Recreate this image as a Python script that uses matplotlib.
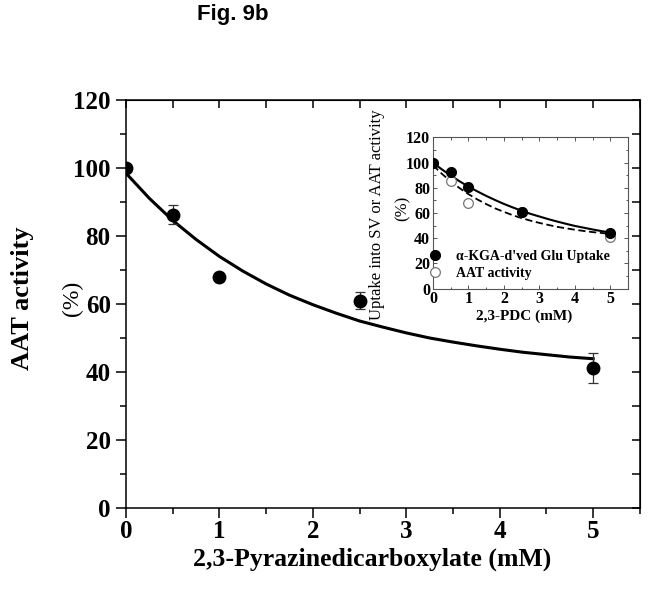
import matplotlib.pyplot as plt
from matplotlib.ticker import MultipleLocator

# main panel: AAT activity vs 2,3-pyrazinedicarboxylate
conc = [0, 0.5, 1, 2.5, 5]
aat = [100, 86.3, 68.0, 61.0, 41.2]
aat_err = [0, 2.8, 0, 2.4, 4.5]

# fitted curve
fit_x = [0, 0.25, 0.5, 0.75, 1, 1.25, 1.5, 1.75, 2, 2.25, 2.5,
         2.75, 3, 3.25, 3.5, 3.75, 4, 4.25, 4.5, 4.75, 5]
fit_main = [98.5, 91.1, 84.6, 79.0, 74.0, 69.7, 65.9, 62.6, 59.8, 57.3, 55.0,
            53.2, 51.5, 50.0, 48.8, 47.7, 46.7, 45.8, 45.1, 44.4, 43.9]

# inset: uptake vs AAT activity
ins_x = [0, 0.5, 1, 2.5, 5]
uptake = [100, 92.5, 80.5, 61.0, 44.0]
uptake_err = [0, 1.5, 1.5, 1.5, 2.0]
aat_ins = [100, 85.5, 68.0, 61.0, 41.0]
aat_ins_err = [0, 3.0, 3.0, 2.0, 3.0]
fit_uptake = [100, 94.7, 89.8, 85.2, 81.0, 77.2, 73.6, 70.3, 67.2, 64.4, 61.8,
              59.3, 57.2, 55.1, 53.2, 51.4, 49.7, 48.3, 46.9, 45.6, 44.4]
fit_aat = [98, 91.2, 85.2, 79.8, 75.0, 70.8, 67.1, 63.7, 60.9, 58.2, 55.9,
           53.9, 52.1, 50.5, 49.0, 47.8, 46.7, 45.7, 44.8, 44.1, 43.4]

serif = ['Liberation Serif', 'DejaVu Serif']

fig = plt.figure(figsize=(6.49, 5.9), dpi=100)
ax = fig.add_axes([0.194, 0.139, 0.792, 0.6915])

ax.plot(fit_x, fit_main, color='black', lw=2.2, zorder=2)
ax.errorbar(conc, aat, yerr=aat_err, fmt='none', ecolor='#333333',
            elinewidth=0.9, capsize=3.6, capthick=0.9, zorder=3)
ax.plot(conc, aat, 'o', color='black', ms=9, zorder=4)

ax.set_xlim(0, 5.5)
ax.set_ylim(0, 120)
ax.xaxis.set_major_locator(MultipleLocator(1))
ax.xaxis.set_minor_locator(MultipleLocator(0.5))
ax.yaxis.set_major_locator(MultipleLocator(20))
ax.yaxis.set_minor_locator(MultipleLocator(10))
ax.tick_params(which='major', direction='out', length=7, width=1.1, pad=4)
ax.tick_params(axis='x', which='major', pad=2)
ax.tick_params(which='minor', direction='out', length=4, width=1.1)
for s in ax.spines.values():
    s.set_linewidth(1.1)
for lab in ax.get_xticklabels() + ax.get_yticklabels():
    lab.set_family(serif)
    lab.set_fontweight('bold')
    lab.set_fontsize(18)

# inward ticks on top and right
top = ax.secondary_xaxis('top')
top.xaxis.set_major_locator(MultipleLocator(0.5))
top.tick_params(direction='in', length=6, width=1.1, labeltop=False)
right = ax.secondary_yaxis('right')
right.yaxis.set_major_locator(MultipleLocator(10))
right.tick_params(direction='in', length=6, width=1.1, labelright=False)

fig.text(0.573, 0.052, '2,3-Pyrazinedicarboxylate (mM)', family=serif,
         fontweight='bold', fontsize=18.5, ha='center', va='center')
fig.text(0.034, 0.495, 'AAT activity', family=serif, fontweight='bold',
         fontsize=19, rotation=90, ha='center', va='center')
fig.text(0.111, 0.495, '(%)', family=serif, fontsize=17, rotation=90,
         ha='center', va='center')
fig.text(0.359, 0.975, 'Fig. 9b', family=['Liberation Sans', 'DejaVu Sans'],
         fontweight='bold', fontsize=16, ha='center', va='center')

# inset
ins = fig.add_axes([0.667, 0.511, 0.301, 0.256])
ins.plot(fit_x, fit_aat, color='black', lw=1.3, ls=(0, (4, 2)), zorder=2)
ins.plot(fit_x, fit_uptake, color='black', lw=1.5, zorder=2)
ins.errorbar(ins_x, aat_ins, yerr=aat_ins_err, fmt='none', ecolor='#777777',
             elinewidth=0.7, capsize=1.5, zorder=3)
ins.plot(ins_x, aat_ins, 'o', mfc='white', mec='#777777', mew=0.9, ms=7,
         zorder=3, label='AAT activity')
ins.errorbar(ins_x, uptake, yerr=uptake_err, fmt='none', ecolor='black',
             elinewidth=0.7, capsize=1.5, zorder=4)
ins.plot(ins_x, uptake, 'o', color='black', ms=7, zorder=5,
         label="\u03b1-KGA-d'ved Glu Uptake")
ins.set_xlim(0, 5.5)
ins.set_ylim(0, 120)
ins.xaxis.set_major_locator(MultipleLocator(1))
ins.xaxis.set_minor_locator(MultipleLocator(0.5))
ins.yaxis.set_major_locator(MultipleLocator(20))
ins.yaxis.set_minor_locator(MultipleLocator(10))
ins.tick_params(which='both', direction='in', top=True, right=True,
                color='#555555', width=0.7, pad=2)
ins.tick_params(which='major', length=3)
ins.tick_params(which='minor', length=1.8)
for s in ins.spines.values():
    s.set_linewidth(0.8)
    s.set_color('#555555')
for lab in ins.get_xticklabels() + ins.get_yticklabels():
    lab.set_family(serif)
    lab.set_fontweight('bold')
    lab.set_fontsize(11.5)

h, l = ins.get_legend_handles_labels()
ins.legend(h[::-1], l[::-1], loc='lower left', bbox_to_anchor=(-0.06, 0.02),
           frameon=False, prop={'family': serif, 'weight': 'bold', 'size': 10},
           handletextpad=0.9, borderaxespad=0, labelspacing=0.3,
           handlelength=1.2)

fig.text(0.581, 0.636, 'Uptake into SV or AAT activity', family=serif,
         fontsize=12, rotation=90, ha='center', va='center')
fig.text(0.621, 0.647, '(%)', family=serif, fontsize=12, rotation=90,
         ha='center', va='center')
fig.text(0.807, 0.464, '2,3-PDC (mM)', family=serif, fontweight='bold',
         fontsize=11, ha='center', va='center')

fig.savefig('out.png', dpi=100)
